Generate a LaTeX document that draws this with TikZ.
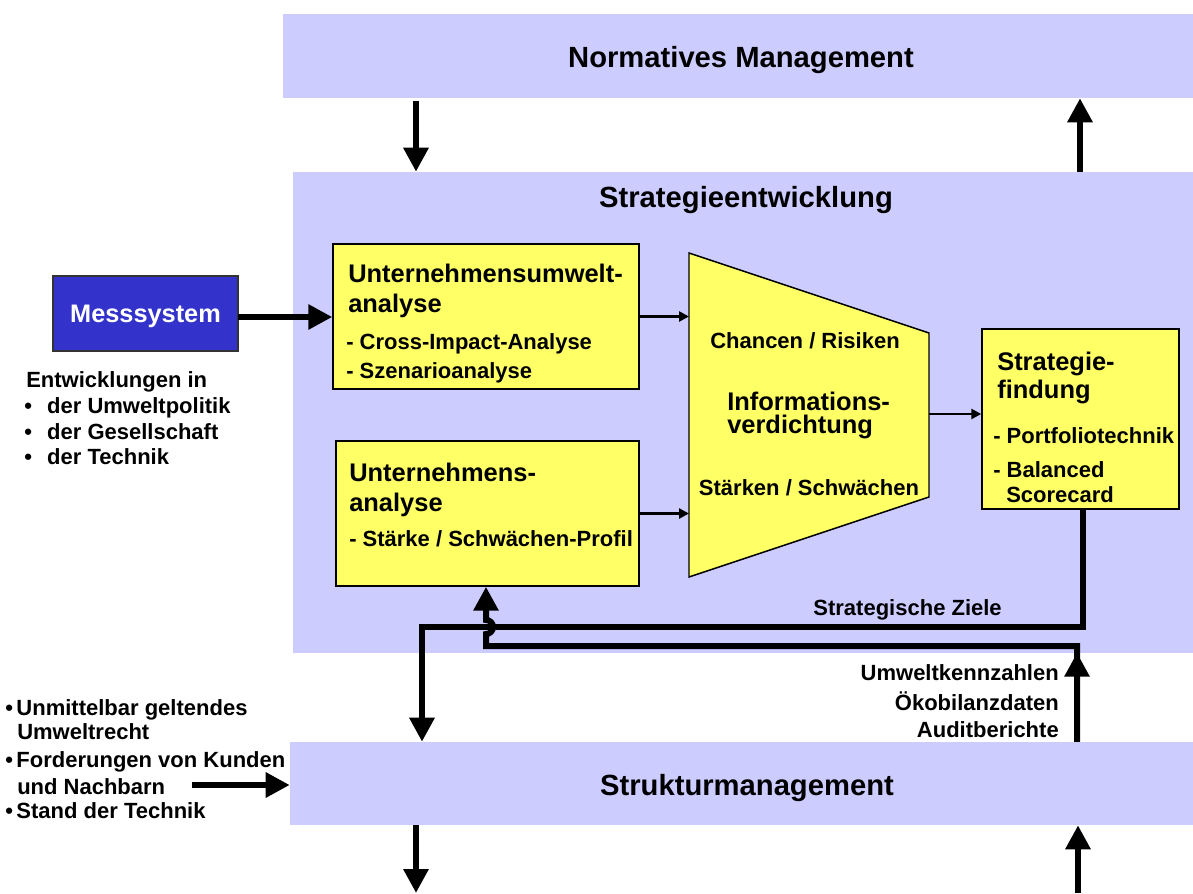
\documentclass[tikz,border=0pt]{standalone}
\usepackage{fontspec}
\setmainfont{Liberation Sans}
\usetikzlibrary{arrows.meta,fit}

\definecolor{panelblue}{HTML}{CCCCFF}
\definecolor{cardyellow}{HTML}{FFFF66}
\definecolor{sensorblue}{HTML}{3333CC}

\tikzset{
  panel/.style={fill=panelblue, draw=none, inner sep=0pt},
  card/.style={fill=cardyellow, draw=black, line width=1.1pt, inner sep=0pt},
  sensor/.style={fill=sensorblue, draw=black!80, line width=0.9pt, inner sep=0pt},
  bigtext/.style={font=\fontsize{21.9}{26}\selectfont\bfseries, inner sep=0pt, anchor=base},
  midtext/.style={font=\fontsize{19.1}{23}\selectfont\bfseries, inner sep=0pt, anchor=base west},
  smalltext/.style={font=\fontsize{16.5}{20}\selectfont\bfseries, inner sep=0pt, anchor=base west},
  flow/.style={line width=4.5pt, -{Triangle[length=18pt,width=18pt]}},
  wire/.style={line width=4.5pt},
  link/.style={line width=2.2pt, -{Triangle[length=7.5pt,width=7.5pt]}},
}

\begin{document}
\begin{tikzpicture}[x=0.75pt, y=-0.75pt]
\useasboundingbox (0,0) rectangle (1193,893);

% management levels
\node[panel, fit={(283,14) (1193,98)}] (norm) {};
\node[panel, fit={(293,172) (1193,653)}] (strat) {};
\node[panel, fit={(290,742) (1193,825)}] (struk) {};

\node[bigtext] (normT) at (741,67) {Normatives Management};
\node[bigtext] (stratT) at (746,207) {Strategieentwicklung};
\node[bigtext] (strukT) at (747,795) {Strukturmanagement};

% measuring system
\node[sensor, fit={(53,276) (238,351)}] (mess) {};
\node[font=\fontsize{19}{23}\selectfont\bfseries, text=white, inner sep=0pt, anchor=base] (messT) at (145.5,322) {Messsystem};

% analysis cards
\node[card, fit={(333,244) (639,389)}] (uma) {};
\node[midtext] (umaT1) at (348,282) {Unternehmensumwelt-};
\node[midtext] (umaT2) at (348,312) {analyse};
\node[smalltext] (umaT3) at (346,349) {- Cross-Impact-Analyse};
\node[smalltext] (umaT4) at (346,378) {- Szenarioanalyse};

\node[card, fit={(336,441) (639,586)}] (ua) {};
\node[midtext] (uaT1) at (349,481) {Unternehmens-};
\node[midtext] (uaT2) at (349,511) {analyse};
\node[smalltext] (uaT3) at (349,546) {- Stärke / Schwächen-Profil};

% information condensing funnel
\draw[card] (689,253) coordinate (tzA) -- (929,333) coordinate (tzB)
  -- (929,497) coordinate (tzC) -- (689,577) coordinate (tzD) -- cycle;
\coordinate (tzL) at (689,0);
\coordinate (tzR) at (929,414);
\node[smalltext, anchor=base] (tzT1) at (805,348) {Chancen / Risiken};
\node[midtext] (tzT2) at (727,410) {Informations-};
\node[midtext] (tzT3) at (727,433) {verdichtung};
\node[smalltext, anchor=base] (tzT4) at (809,495) {Stärken / Schwächen};

% strategy finding
\node[card, fit={(982,329) (1179,509)}] (sf) {};
\node[midtext] (sfT1) at (997,370) {Strategie-};
\node[midtext] (sfT2) at (997,398) {findung};
\node[smalltext] (sfT3) at (993,443) {- Portfoliotechnik};
\node[smalltext] (sfT4) at (993,477) {- Balanced};
\node[smalltext] (sfT5) at (1006,502) {Scorecard};

% side notes
\node[smalltext] (envA) at (26,387) {Entwicklungen in};
\node[smalltext] (envB) at (24,413) {\makebox[17.2pt][l]{•}der Umweltpolitik};
\node[smalltext] (envC) at (24,439) {\makebox[17.2pt][l]{•}der Gesellschaft};
\node[smalltext] (envD) at (24,464) {\makebox[17.2pt][l]{•}der Technik};

\node[smalltext] (reqA) at (5,715) {\makebox[8.4pt][l]{•}Unmittelbar geltendes};
\node[smalltext] (reqB) at (17,739) {Umweltrecht};
\node[smalltext] (reqC) at (5,767) {\makebox[8.4pt][l]{•}Forderungen von Kunden};
\node[smalltext] (reqD) at (17,794) {und Nachbarn};
\node[smalltext] (reqE) at (5,818) {\makebox[8.4pt][l]{•}Stand der Technik};

\node[smalltext, anchor=base east] (goalT) at (1002,615) {Strategische Ziele};
\node[smalltext, anchor=base east] (dataA) at (1059,680) {Umweltkennzahlen};
\node[smalltext, anchor=base east] (dataB) at (1059,710) {Ökobilanzdaten};
\node[smalltext, anchor=base east] (dataC) at (1059,737) {Auditberichte};

% connector columns and free ends
\coordinate (xL) at (416,0);
\coordinate (xR) at (1080,0);
\coordinate (xRb) at (1078,0);
\coordinate (xDown) at (422,0);
\coordinate (xUp) at (486,0);
\coordinate (goalBend) at (1083,627);
\coordinate (dataBend) at (1077,646);
\coordinate (messOut) at (238,317);
\coordinate (reqOut) at (192,785);
\coordinate (bottomL) at (416,893);
\coordinate (bottomR) at (1078,893);

% vertical links between the levels
\draw[flow] ([yshift=-2pt]norm.south -| xL) -- (strat.north -| xL);
\draw[flow] (strat.north -| xR) -- (norm.south -| xR);
\draw[flow] (struk.south -| xL) -- (bottomL);
\draw[flow] (bottomR) -- (struk.south -| xRb);
\draw[flow] (reqOut) -- (reqOut -| struk.west);

% inputs into the strategy process
\draw[flow] (messOut) -- (messOut -| uma.west);
\draw[link] (uma.east) -- (uma.east -| tzL);
\draw[link] (ua.east) -- (ua.east -| tzL);
\draw[link] (tzR) -- (tzR -| sf.west);

% strategic goals down to structure management
\draw[flow] (sf.south -| goalBend) -- (goalBend) -- (goalBend -| xDown) -- (struk.north -| xDown);

% environmental figures back up, hopping over the goals line
\draw[flow] (struk.north -| dataBend) -- (dataBend) -- (dataBend -| xUp) -- ++(0,-12)
  arc[start angle=90, end angle=-90, radius=7] -- (ua.south -| xUp);
\draw[flow] (struk.north -| dataBend) -- ++(0,-89);
\end{tikzpicture}
\end{document}
